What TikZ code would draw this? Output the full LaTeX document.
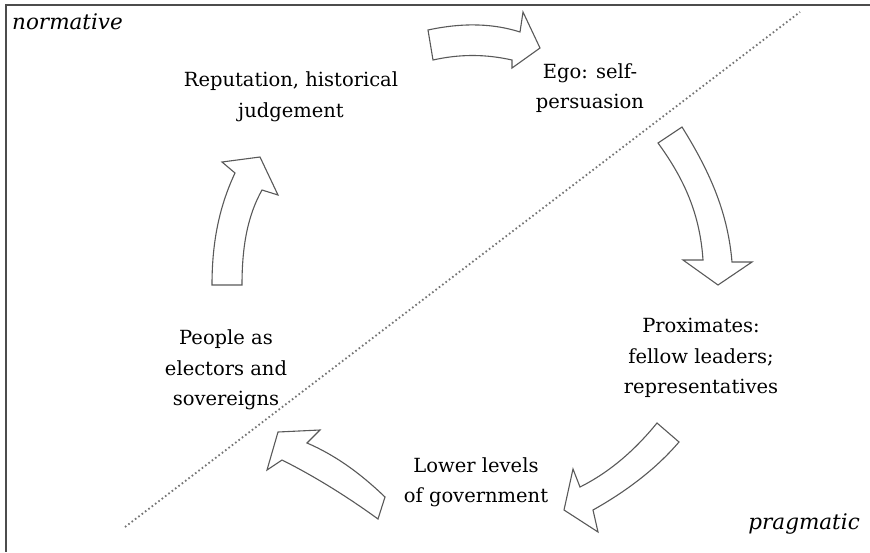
\documentclass[tikz,border=0pt]{standalone}
\usepackage{fontspec}
\setmainfont{DejaVu Serif}
\begin{document}
\begin{tikzpicture}[x=1pt,y=-1pt,
  lbl/.style={align=center,font=\fontsize{19.5}{30.5}\selectfont,inner sep=0pt,text=black},
  corner/.style={font=\fontsize{21.5}{24}\selectfont\itshape,inner sep=0pt,text=black},
  blockarrow/.style={draw=black!65,line width=1.1pt,fill=white,line join=miter},
  frameline/.style={draw=black!70,line width=1.3pt},
  divider/.style={draw=black!55,line width=1.8pt,dash pattern=on 1.6pt off 2.6pt}]
\useasboundingbox (0,0) rectangle (870,552);
% frame
\coordinate (fTL) at (6,5);
\coordinate (fTR) at (870,5);
\coordinate (fBL) at (6,552);
\draw[frameline] (fTR) -- (fTL) -- (fBL);
% divider
\coordinate (dA) at (125,527);
\coordinate (dB) at (800,12);
\draw[divider] (dA) -- (dB);
% labels
\node[corner,anchor=west] (norm) at (12,22) {normative};
\node[corner,anchor=east] (prag) at (860,524) {pragmatic};
\node[lbl] (rep) at (291,97) {Reputation, historical\\judgement};
\node[lbl] (ego) at (590,88) {Ego: self-\\persuasion};
\node[lbl] (prox) at (701,358) {Proximates:\\fellow leaders;\\representatives};
\node[lbl] (people) at (226,370) {People as\\electors and\\sovereigns};
\node[lbl] (lower) at (476,482) {Lower levels\\of government};
% arrow 1: top, to the right
\draw[blockarrow] (428,30) .. controls (465,22) and (495,24) .. (520,32)
  -- (523,12) -- (540,48) -- (512,68) -- (512,60)
  .. controls (485,54) and (460,54) .. (433,60) -- cycle;
% arrow 2: right, downwards
\draw[blockarrow] (658,143) -- (682,127)
  .. controls (712,175) and (728,215) .. (732,262)
  -- (752,262) -- (718,285) -- (683,260) -- (703,260)
  .. controls (700,215) and (685,180) .. (658,143) -- cycle;
% arrow 3: bottom right, down-left
\draw[blockarrow] (657,423) -- (679,442)
  .. controls (655,470) and (625,492) .. (593,510)
  -- (598,532) -- (564,510) -- (573,469) -- (580,487)
  .. controls (610,472) and (635,450) .. (657,423) -- cycle;
% arrow 4: bottom left, up-left
\draw[blockarrow] (385,497) -- (378,519)
  .. controls (345,495) and (312,475) .. (282,460)
  -- (267,470) -- (278,432) -- (320,430) -- (307,443)
  .. controls (335,455) and (360,473) .. (385,497) -- cycle;
% arrow 5: left, upwards
\draw[blockarrow] (212,285) -- (242,285)
  .. controls (242,245) and (248,215) .. (262,190)
  -- (278,195) -- (260,157) -- (222,162) -- (235,173)
  .. controls (220,205) and (212,240) .. (212,285) -- cycle;
\end{tikzpicture}
\end{document}
